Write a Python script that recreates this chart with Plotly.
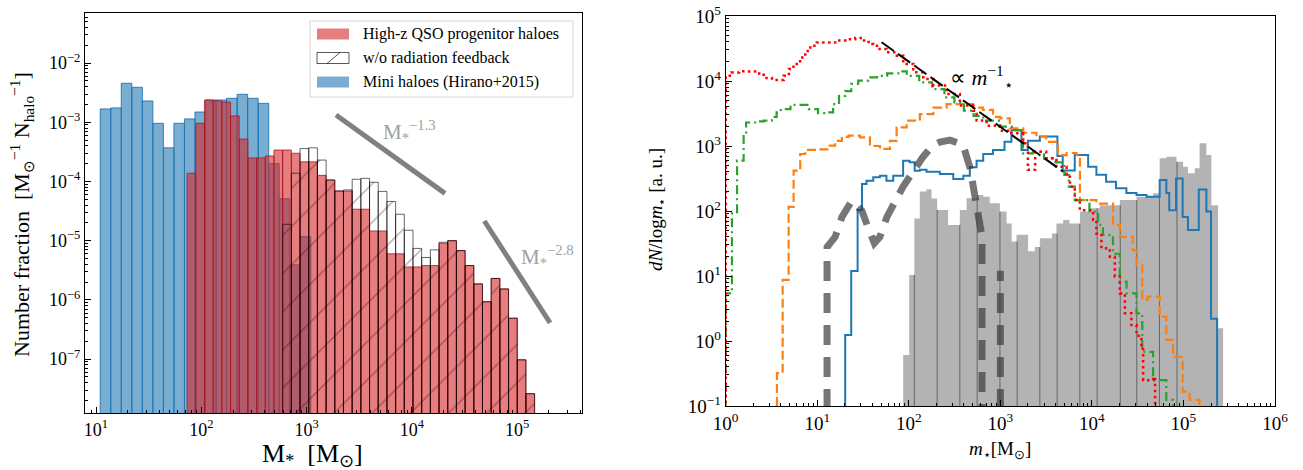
import plotly.graph_objects as go

SERIF = "Liberation Serif"

# ---------------- Left panel data ----------------
blue_log_start = 1.04
blue_log_width = 0.1
blue_values = [1.68e-3, 1.75e-3, 4.56e-3, 3.9e-3, 2.29e-3, 9.6e-4, 3.7e-4, 9.6e-4, 1.14e-3, 1.49e-3,
               2.38e-3, 2.38e-3, 2.54e-3, 2.97e-3, 2.54e-3, 2.09e-3, 2.0e-4, 5.1e-5, 3.9e-6, 1.17e-5]

red_log_start = 1.865
red_log_width = 0.0825
red_values = [1.38e-4, 9.6e-4, 2.38e-3, 2.3e-3, 2.2e-3, 1.28e-3, 5.2e-4, 2.5e-4, 2.5e-4, 2.7e-4,
              3.4e-4, 3.4e-4, 3.0e-4, 2.15e-4, 2.15e-4, 1.27e-4, 1.06e-4, 6.9e-5, 6.9e-5, 3.4e-5,
              3.4e-5, 1.46e-5, 1.46e-5, 6.0e-6, 6.0e-6, 3.6e-6, 3.6e-6, 3.8e-6, 3.8e-6, 9.0e-6,
              1.0e-5, 6.8e-6, 3.8e-6, 1.86e-6, 9.3e-7, 2.3e-6, 1.53e-6, 4.9e-7, 9.7e-8, 2.6e-8]
hatch_values = [0] * 11 + [1.89e-5, 1.38e-4, 3.6e-4, 3.7e-4, 2.3e-4, 1.06e-4, 6.9e-5, 7.2e-5, 1.09e-4,
                           1.13e-4, 9.7e-5, 6.8e-5, 4.6e-5, 2.8e-5, 1.5e-5, 7.4e-6, 5.2e-6, 7.0e-6, 9.4e-6,
                           1.0e-5, 6.8e-6, 3.8e-6, 1.86e-6, 9.3e-7, 2.3e-6, 1.53e-6, 4.9e-7, 9.7e-8, 2.6e-8]

slope13_m = [1901, 20600]
slope13_v = [1.33e-3, 6.3e-5]
slope28_m = [48700, 2.05e5]
slope28_v = [2.15e-5, 4.1e-7]

legend_labels = ["High-z QSO progenitor haloes", "w/o radiation feedback", "Mini haloes (Hirano+2015)"]

left_xticks = [1e1, 1e2, 1e3, 1e4, 1e5]
left_xticktext = ["10<sup>1</sup>", "10<sup>2</sup>", "10<sup>3</sup>", "10<sup>4</sup>", "10<sup>5</sup>"]
left_yticks = [1e-7, 1e-6, 1e-5, 1e-4, 1e-3, 1e-2]
left_yticktext = ["10<sup>−7</sup>", "10<sup>−6</sup>", "10<sup>−5</sup>", "10<sup>−4</sup>",
                  "10<sup>−3</sup>", "10<sup>−2</sup>"]

# ---------------- Right panel data ----------------
red_m = [1.0, 1.15, 1.4, 1.7, 2.1, 2.6, 3.2, 3.95, 4.3, 4.9, 5.5, 6.5, 7.4, 8.4, 9.9, 12.2, 15.7, 20.2,
         26, 30.8, 36.4, 41, 48, 57, 74, 87, 112, 144, 185, 259, 361, 505, 550, 706, 988, 1270, 1775,
         2000, 2400, 3170, 4100, 5290, 5760, 6500, 7380, 10300, 11200, 12700, 15700, 17800, 20200,
         22900, 27000, 30700, 34700, 36300, 46600]
red_v = [1.2e4, 1.35e4, 1.41e4, 1.4e4, 1.31e4, 1.11e4, 1.04e4, 1.04e4, 1.2e4, 1.53e4, 1.83e4, 2.3e4,
         2.9e4, 3.5e4, 3.9e4, 3.9e4, 4.2e4, 4.4e4, 4.6e4, 4.2e4, 3.7e4, 3.5e4, 3.1e4, 2.76e4, 2.45e4,
         1.83e4, 1.36e4, 1.07e4, 8.5e3, 6.3e3, 4.2e3, 3.5e3, 2.46e3, 2.05e3, 1.72e3, 1.57e3, 1.1e3,
         430, 817, 646, 480, 337, 237, 147, 103, 73, 45, 26.7, 19.8, 9.8, 5.4, 2.67, 1.76, 1.2, 0.82,
         0.25, 0.28]
red_end = 4.9e4

green_m = [1.0, 1.17, 1.33, 1.57, 1.67, 2.1, 2.6, 3.2, 3.6, 4.0, 5.1, 6.5, 8.1, 10.2, 12.8, 14.9, 17.3,
           20.2, 23.5, 28, 36, 45, 58, 80, 95, 130, 180, 245, 315, 400, 510, 650, 1000, 1330, 1770,
           2270, 3000, 4000, 5000, 5600, 6500, 9400, 11700, 13200, 17000, 20200, 23900, 30700, 35500,
           46600, 65000]
green_v = [5.4, 92, 594, 1.6e3, 2.3e3, 2.4e3, 2.45e3, 2.8e3, 3.3e3, 3.7e3, 4.3e3, 4.3e3, 3.7e3, 3.2e3,
           3.3e3, 4.4e3, 5.9e3, 7e3, 9e3, 1.01e4, 1.14e4, 1.2e4, 1.31e4, 1.41e4, 1.2e4, 9.5e3, 7.5e3,
           5.6e3, 4.7e3, 3.5e3, 2.9e3, 2.45e3, 1.98e3, 1.76e3, 770, 817, 646, 560, 358, 237, 147, 98,
           61, 43, 22, 8.2, 5.4, 2.67, 0.68, 0.25, 0.124]
green_end = 7.7e4

orange_m = [3.63, 4.19, 4.87, 5.52, 6.52, 7.39, 10.4, 13.3, 15.7, 18.6, 22, 29.3, 37.6, 48.3, 62.2,
            73.6, 94.6, 132, 185, 259, 505, 646, 832, 1000, 1270, 1780, 2480, 3170, 4260, 5300, 6800,
            7400, 11200, 17000, 20200, 27900, 30700, 35500, 40500, 55000, 65000, 77000, 98000, 117000]
orange_v = [0.32, 8.7, 116, 417, 753, 870, 885, 1.01e3, 1.2e3, 1.38e3, 1.44e3, 1.36e3, 1.0e3, 900,
            1.2e3, 1.94e3, 2.45e3, 3.1e3, 3.9e3, 4.4e3, 3.9e3, 3.6e3, 2.8e3, 2.67e3, 1.87e3, 1.6e3,
            1.4e3, 1.16e3, 725, 780, 725, 147, 130, 61, 40, 25, 14.7, 4.3, 4.8, 2.37, 1.04, 0.57,
            0.166, 0.124]
orange_end = 1.5e5

blue_m = [20.2, 23.5, 27.6, 30.8, 34.5, 40.9, 48.4, 57, 67.6, 86.7, 102, 116, 132, 156, 218, 306, 394,
          464, 550, 650, 830, 1110, 1320, 1700, 2000, 2700, 4200, 4800, 6500, 9100, 11200, 14300,
          18300, 23800, 30700, 39600, 55000, 65000, 70000, 83000, 98000, 112000, 147000, 178000,
          200000]
blue_v = [1.24, 11.9, 104, 260, 292, 330, 350, 292, 350, 594, 560, 417, 430, 400, 370, 310, 350, 470,
          594, 753, 870, 1160, 1750, 870, 1200, 1400, 700, 420, 725, 480, 360, 282, 224, 190, 176, 165,
          300, 190, 103, 317, 81, 51, 215, 98, 2.2]
blue_end = 2.33e5

gray_m = [86.9, 101, 115, 132, 156, 177, 204, 269, 361, 428, 550, 649, 768, 988, 1170, 1330, 1500,
          2010, 2380, 2700, 3660, 4100, 4850, 5700, 7400, 9500, 12200, 20200, 30700, 46600, 55000,
          65000, 84000, 99000, 112000, 133000, 150000, 178000, 202000, 239000]
gray_v = [0.61, 10.4, 77, 200, 217, 156, 104, 61, 104, 157, 176, 166, 132, 98, 64, 34, 43, 24, 28, 38,
          45, 64, 73, 64, 98, 110, 123, 147, 166, 187, 646, 684, 573, 480, 380, 454, 1100, 725, 123,
          1.57]
gray_end = 2.71e5
gray_divider_m = [115, 204, 361, 558, 990, 1525, 2700, 4170, 7380, 11400, 20400, 30900, 54700, 85000]

dashcurve_m = [12.8, 15.7, 18.6, 23.9, 30.8, 36, 42, 48.3, 57.7, 86, 111, 143, 180, 219, 281, 390,
               465, 550, 600, 631]
dashcurve_v = [28, 40, 81, 144, 100, 55, 32, 40, 81, 234, 420, 680, 1000, 1150, 1230, 1050, 470, 147,
               60, 40]
dashspike_m = 1000
dashspike_v = 12

powerlaw_m = [50.5, 4850]
powerlaw_v = [3.94e4, 403]

right_xticks = [1e0, 1e1, 1e2, 1e3, 1e4, 1e5, 1e6]
right_xticktext = ["10<sup>0</sup>", "10<sup>1</sup>", "10<sup>2</sup>", "10<sup>3</sup>",
                   "10<sup>4</sup>", "10<sup>5</sup>", "10<sup>6</sup>"]
right_yticks = [1e-1, 1e0, 1e1, 1e2, 1e3, 1e4, 1e5]
right_yticktext = ["10<sup>−1</sup>", "10<sup>0</sup>", "10<sup>1</sup>", "10<sup>2</sup>",
                   "10<sup>3</sup>", "10<sup>4</sup>", "10<sup>5</sup>"]

# ---------------- helpers ----------------
W, H = 1303, 470
FLOOR_L = 1e-12
FLOOR_R = 1e-4


def px(x):
    return x / W


def py(y):
    return 1 - y / H


def bar_paths(log_start, log_width, values, floor):
    xs, ys = [], []
    for i, v in enumerate(values):
        if not v:
            continue
        x0 = 10 ** (log_start + i * log_width)
        x1 = 10 ** (log_start + (i + 1) * log_width)
        xs += [x0, x0, x1, x1, x0, None]
        ys += [floor, v, v, floor, floor, None]
    return xs, ys


def step_xy(ms, vs, end, floor):
    return [ms[0]] + list(ms) + [end], [floor] + list(vs) + [floor]


def minor_vals(lo, hi):
    out = []
    for e in range(lo, hi):
        for k in range(2, 10):
            out.append(k * 10 ** e)
    return out


RED_FILL = "rgba(214,39,40,0.6)"
BLUE_FILL = "rgba(31,119,180,0.6)"

fig = go.Figure()

# ---- left panel ----
bx, by = bar_paths(blue_log_start, blue_log_width, blue_values, FLOOR_L)
fig.add_trace(go.Scatter(x=bx, y=by, mode="lines", fill="toself", fillcolor=BLUE_FILL,
                         line=dict(color="rgba(31,119,180,0.9)", width=1),
                         name=legend_labels[2], showlegend=False,
                         xaxis="x", yaxis="y", hoverinfo="skip"))
rx, ry = bar_paths(red_log_start, red_log_width, red_values, FLOOR_L)
fig.add_trace(go.Scatter(x=rx, y=ry, mode="lines", fill="toself", fillcolor=RED_FILL,
                         line=dict(color="rgba(170,20,25,0.75)", width=1),
                         name=legend_labels[0], showlegend=False,
                         xaxis="x", yaxis="y", hoverinfo="skip"))
hx, hy = bar_paths(red_log_start, red_log_width, hatch_values, FLOOR_L)
fig.add_trace(go.Scatter(x=hx, y=hy, mode="lines", fill="toself",
                         fillcolor="rgba(0,0,0,0)",
                         fillpattern=dict(shape="/", fgcolor="rgba(40,0,0,0.7)",
                                          bgcolor="rgba(0,0,0,0)", size=27, solidity=0.05),
                         line=dict(color="rgba(0,0,0,0.6)", width=1),
                         name=legend_labels[1], showlegend=False,
                         xaxis="x", yaxis="y", hoverinfo="skip"))
for sm, sv in ((slope13_m, slope13_v), (slope28_m, slope28_v)):
    fig.add_trace(go.Scatter(x=sm, y=sv, mode="lines", line=dict(color="#808080", width=5),
                             showlegend=False, xaxis="x", yaxis="y", hoverinfo="skip"))

# ---- right panel ----
gx, gy = step_xy(gray_m, gray_v, gray_end, FLOOR_R)
fig.add_trace(go.Scatter(x=gx, y=gy, mode="lines", line_shape="hv", fill="toself",
                         fillcolor="rgba(128,128,128,0.6)", line=dict(width=0, color="rgba(0,0,0,0)"),
                         showlegend=False, xaxis="x2", yaxis="y2", hoverinfo="skip"))
dvx, dvy = [], []
for m in gray_divider_m:
    idx = max(i for i in range(len(gray_m)) if gray_m[i] <= m)
    top = gray_v[idx]
    if idx > 0 and abs(gray_m[idx] - m) / m < 0.03:
        top = min(top, gray_v[idx - 1])
    dvx += [m, m, None]
    dvy += [FLOOR_R, top, None]
fig.add_trace(go.Scatter(x=dvx, y=dvy, mode="lines", line=dict(color="rgba(70,70,70,0.7)", width=1),
                         showlegend=False, xaxis="x2", yaxis="y2", hoverinfo="skip"))

for ms, vs, end, col, dash, w in (
        (blue_m, blue_v, blue_end, "#1f77b4", "solid", 2),
        (orange_m, orange_v, orange_end, "#ff7f0e", "9px,4px", 2.2),
        (green_m, green_v, green_end, "#2ca02c", "9px,4px,2px,4px", 2.2),
        (red_m, red_v, red_end, "#ff0000", "2.5px,3.5px", 2.5)):
    sx, sy = step_xy(ms, vs, end, FLOOR_R)
    fig.add_trace(go.Scatter(x=sx, y=sy, mode="lines", line_shape="hv",
                             line=dict(color=col, width=w, dash=dash),
                             showlegend=False, xaxis="x2", yaxis="y2", hoverinfo="skip"))

cx = [dashcurve_m[0]] + dashcurve_m + [dashcurve_m[-1], None, dashspike_m, dashspike_m]
cy = [FLOOR_R] + dashcurve_v + [FLOOR_R, None, FLOOR_R, dashspike_v]
fig.add_trace(go.Scatter(x=cx, y=cy, mode="lines", line=dict(color="rgba(60,60,60,0.7)", width=7,
                                                              dash="20px,12px"),
                         showlegend=False, xaxis="x2", yaxis="y2", hoverinfo="skip"))
fig.add_trace(go.Scatter(x=powerlaw_m, y=powerlaw_v, mode="lines",
                         line=dict(color="black", width=2, dash="15px,5px"),
                         showlegend=False, xaxis="x2", yaxis="y2", hoverinfo="skip"))

axis_common = dict(type="log", showline=True, linecolor="black", linewidth=1, mirror=True,
                   ticks="inside", ticklen=6, tickwidth=1, tickcolor="black", showgrid=False,
                   zeroline=False, tickmode="array", automargin=False)

# ---- legend drawn as shapes + text (left panel) ----
shapes = [
    dict(type="rect", xref="paper", yref="paper", x0=px(310), x1=px(573), y0=py(97), y1=py(21),
         line=dict(color="#d5d5d5", width=1), fillcolor="rgba(255,255,255,0.85)", layer="above"),
    dict(type="rect", xref="paper", yref="paper", x0=px(317), x1=px(349), y0=py(39.5), y1=py(28.5),
         line=dict(width=0), fillcolor=RED_FILL, layer="above"),
    dict(type="rect", xref="paper", yref="paper", x0=px(317), x1=px(349), y0=py(63.5), y1=py(52.5),
         line=dict(color="rgba(0,0,0,0.65)", width=1), fillcolor="rgba(0,0,0,0)", layer="above"),
    dict(type="line", xref="paper", yref="paper", x0=px(327), x1=px(340), y0=py(63.5), y1=py(52.5),
         line=dict(color="rgba(0,0,0,0.65)", width=1), layer="above"),
    dict(type="rect", xref="paper", yref="paper", x0=px(317), x1=px(349), y0=py(87.5), y1=py(76.5),
         line=dict(width=0), fillcolor=BLUE_FILL, layer="above"),
]
legend_text = [dict(text=t, x=px(361), y=py(yy), xref="paper", yref="paper", xanchor="left",
                    yanchor="middle", showarrow=False, font=dict(size=16))
               for t, yy in zip(legend_labels, (34.3, 58, 81.7))]

fig.update_layout(
    width=W, height=H, margin=dict(l=0, r=0, t=0, b=0, autoexpand=False),
    paper_bgcolor="white", plot_bgcolor="white",
    font=dict(family=SERIF, color="black"),
    showlegend=False,
    xaxis=dict(axis_common, domain=[px(85), px(582)], range=[0.8955, 5.615], anchor="y",
               tickvals=left_xticks, ticktext=left_xticktext, tickfont=dict(size=18),
               minor=dict(tickvals=minor_vals(0, 6), ticks="inside", ticklen=3, tickcolor="black")),
    yaxis=dict(axis_common, domain=[py(413), py(13)], range=[-7.911, -1.154], anchor="x",
               tickvals=left_yticks, ticktext=left_yticktext, tickfont=dict(size=18),
               minor=dict(tickvals=minor_vals(-9, -1), ticks="inside", ticklen=3, tickcolor="black")),
    xaxis2=dict(axis_common, domain=[px(725.7), px(1275)], range=[0, 6], anchor="y2",
                tickvals=right_xticks, ticktext=right_xticktext, tickfont=dict(size=19),
                minor=dict(tickvals=minor_vals(0, 6), ticks="inside", ticklen=3, tickcolor="black")),
    yaxis2=dict(axis_common, domain=[py(406), py(16)], range=[-1, 5], anchor="x2",
                tickvals=right_yticks, ticktext=right_yticktext, tickfont=dict(size=19),
                minor=dict(tickvals=minor_vals(-1, 5), ticks="inside", ticklen=3, tickcolor="black")),
    shapes=shapes,
    annotations=legend_text + [
        dict(text="M<sub>*</sub><sup>−1.3</sup>", x=3.98, y=-3.15, xref="x", yref="y",
             showarrow=False, font=dict(size=21, color="#a0a0a0")),
        dict(text="M<sub>*</sub><sup>−2.8</sup>", x=5.283, y=-5.26, xref="x", yref="y",
             showarrow=False, font=dict(size=21, color="#a0a0a0")),
        dict(text="M<sub>*</sub>  [M<sub>⊙</sub>]", x=px(312), y=py(455), xref="paper", yref="paper",
             xanchor="center", yanchor="middle", showarrow=False, font=dict(size=26)),
        dict(text="Number fraction  [M<sub>⊙</sub><sup>−1</sup> N<sub>halo</sub><sup>−1</sup>]",
             x=px(22), y=py(215), xref="paper", yref="paper", textangle=-90,
             xanchor="center", yanchor="middle", showarrow=False, font=dict(size=22)),
        dict(text="∝ <i>m</i><sup>−1</sup><sub>⋆</sub>", x=2.43, y=4.05, xref="x2", yref="y2",
             xanchor="left", showarrow=False, font=dict(size=22)),
        dict(text="<i>m</i><sub>⋆</sub>[M<sub>⊙</sub>]", x=px(1000), y=py(450),
             xref="paper", yref="paper", xanchor="center", yanchor="middle", showarrow=False,
             font=dict(size=19)),
        dict(text="<i>dN</i>/log<i>m</i><sub>⋆</sub> [a. u.]", x=px(657), y=py(210),
             xref="paper", yref="paper", textangle=-90, xanchor="center", yanchor="middle",
             showarrow=False, font=dict(size=19)),
    ],
)

fig.write_html("out.html", config={"displayModeBar": False},
               post_script="document.body.style.margin='0px';document.body.style.overflow='hidden';")
